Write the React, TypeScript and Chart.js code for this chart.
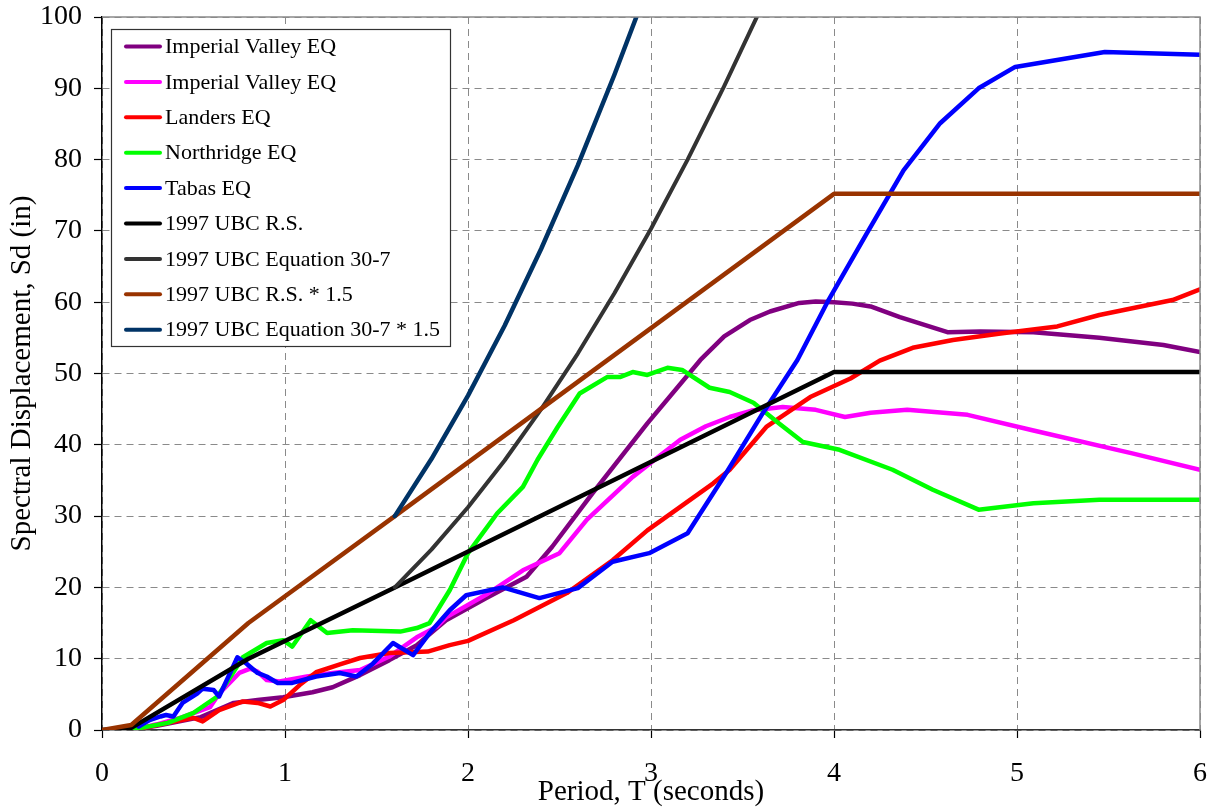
import React, { useEffect, useRef } from "react";
import { Chart, registerables } from "chart.js";

Chart.register(...registerables);

// ---------- data ----------
const seriesLabels = [
  "Imperial Valley EQ",
  "Imperial Valley EQ",
  "Landers EQ",
  "Northridge EQ",
  "Tabas EQ",
  "1997 UBC R.S.",
  "1997 UBC Equation 30-7",
  "1997 UBC R.S. * 1.5",
  "1997 UBC Equation 30-7 * 1.5",
];

const seriesColors = [
  "#800080",
  "#FF00FF",
  "#FF0000",
  "#00FF00",
  "#0000FF",
  "#000000",
  "#333333",
  "#993300",
  "#003366",
];

const imperial1T = [0.15, 0.3, 0.54, 0.72, 0.85, 0.99, 1.15, 1.26, 1.41, 1.57, 1.72, 1.88, 2.1, 2.32, 2.46, 2.68, 2.98, 3.27, 3.4, 3.54, 3.65, 3.81, 3.9, 4.0, 4.1, 4.2, 4.36, 4.62, 4.8, 5.09, 5.45, 5.8, 6.0];
const imperial1Sd = [0, 0.6, 1.8, 3.8, 4.2, 4.6, 5.3, 6.0, 7.7, 9.8, 11.9, 15.4, 18.5, 21.5, 25.7, 33.2, 43, 51.9, 55.2, 57.5, 58.7, 59.9, 60.1, 60, 59.8, 59.4, 57.9, 55.8, 55.9, 55.8, 55, 54, 53];

const imperial2T = [0.17, 0.3, 0.44, 0.59, 0.64, 0.75, 0.81, 0.85, 0.9, 0.97, 1.12, 1.26, 1.41, 1.57, 1.72, 1.83, 1.88, 2.1, 2.3, 2.5, 2.65, 2.9, 3.16, 3.3, 3.43, 3.55, 3.72, 3.9, 4.06, 4.2, 4.4, 4.73, 5.09, 5.63, 6.0];
const imperial2Sd = [0, 0.8, 1.8, 3.2, 5.1, 8, 8.6, 8.2, 7, 6.8, 7.5, 8, 8.4, 10.3, 13, 14.5, 15.8, 19, 22.4, 24.8, 29.5, 35.5, 40.7, 42.6, 43.9, 44.8, 45.3, 44.9, 43.9, 44.5, 44.9, 44.2, 42, 38.8, 36.5];

const landersT = [0.17, 0.36, 0.5, 0.55, 0.64, 0.77, 0.85, 0.92, 0.99, 1.08, 1.17, 1.3, 1.41, 1.57, 1.78, 1.9, 2.0, 2.25, 2.54, 2.79, 2.98, 3.16, 3.34, 3.43, 3.63, 3.87, 4.09, 4.25, 4.43, 4.65, 4.91, 5.22, 5.45, 5.85, 6.0];
const landersSd = [0, 1, 1.7, 1.2, 2.8, 4, 3.8, 3.3, 4.2, 6.3, 8.1, 9.2, 10.1, 10.8, 11, 11.9, 12.5, 15.4, 19.2, 23.8, 28, 31.3, 34.6, 36.5, 42.5, 46.7, 49.3, 51.8, 53.6, 54.7, 55.6, 56.6, 58.2, 60.3, 61.8];

const northridgeT = [0.15, 0.36, 0.5, 0.63, 0.68, 0.77, 0.9, 0.99, 1.04, 1.14, 1.23, 1.37, 1.63, 1.72, 1.79, 1.9, 2.0, 2.16, 2.3, 2.38, 2.49, 2.61, 2.76, 2.83, 2.9, 2.98, 3.09, 3.17, 3.32, 3.43, 3.56, 3.7, 3.83, 4.03, 4.32, 4.54, 4.79, 5.09, 5.45, 6.0];
const northridgeSd = [0, 1, 2.4, 4.7, 6.6, 10.2, 12.2, 12.6, 11.7, 15.4, 13.6, 14, 13.8, 14.3, 15, 19.6, 24.8, 30.4, 34.1, 37.9, 42.5, 47.2, 49.5, 49.5, 50.2, 49.8, 50.8, 50.5, 48, 47.4, 45.9, 43, 40.4, 39.3, 36.5, 33.7, 30.9, 31.8, 32.3, 32.3];

const tabasT = [0.2, 0.26, 0.32, 0.35, 0.39, 0.44, 0.52, 0.55, 0.61, 0.64, 0.7, 0.74, 0.79, 0.85, 0.9, 0.96, 1.04, 1.17, 1.3, 1.39, 1.48, 1.59, 1.7, 1.79, 1.9, 1.99, 2.19, 2.39, 2.6, 2.79, 2.99, 3.2, 3.41, 3.61, 3.8, 3.97, 4.18, 4.38, 4.58, 4.79, 4.99, 5.48, 6.0];
const tabasSd = [0.5, 1.4, 1.9, 2.1, 1.9, 3.8, 5.1, 5.8, 5.6, 4.7, 8, 10.2, 9.3, 8, 7.5, 6.6, 6.6, 7.5, 8, 7.5, 9.3, 12.2, 10.5, 13.6, 16.8, 18.9, 20, 18.5, 19.9, 23.6, 24.8, 27.6, 36, 44.4, 51.9, 60.3, 69.7, 78.5, 85.1, 90, 93, 95.1, 94.7];

const ubcRsT = [0, 0.16, 0.8, 1.6, 4.0, 6.0];
const ubcRsSd = [0, 0.3, 10, 20, 50.2, 50.2];

const ubcEqT = [1.6, 1.8, 2.0, 2.2, 2.4, 2.6, 2.8, 3.0, 3.2, 3.4, 3.58];
const ubcEqSd = [20, 25.3, 31.25, 37.8, 45, 52.8, 61.25, 70.3, 80, 90.3, 100.1];

const ubcRs15T = [0, 0.16, 0.8, 1.6, 4.0, 6.0];
const ubcRs15Sd = [0, 0.7, 15, 30, 75.2, 75.2];

const ubcEq15T = [1.6, 1.8, 2.0, 2.2, 2.4, 2.6, 2.8, 2.92];
const ubcEq15Sd = [30, 38, 46.9, 56.7, 67.5, 79.2, 91.9, 100];

const xTicks = [0, 1, 2, 3, 4, 5, 6];
const yTicks = [0, 10, 20, 30, 40, 50, 60, 70, 80, 90, 100];

const seriesT = [imperial1T, imperial2T, landersT, northridgeT, tabasT, ubcRsT, ubcEqT, ubcRs15T, ubcEq15T];
const seriesSd = [imperial1Sd, imperial2Sd, landersSd, northridgeSd, tabasSd, ubcRsSd, ubcEqSd, ubcRs15Sd, ubcEq15Sd];
const seriesWidths = [4.5, 4.5, 4.5, 4.5, 4.5, 4.5, 4, 4.5, 4.5];

const FONT = "'Liberation Serif', 'Times New Roman', serif";

const framePlugin = {
  id: "frameAndLegend",
  afterDatasetsDraw(chart: any) {
    const { ctx, chartArea } = chart;
    ctx.save();
    // top & right frame
    ctx.strokeStyle = "#8a8a8a";
    ctx.lineWidth = 1.5;
    ctx.beginPath();
    ctx.moveTo(chartArea.left, chartArea.top);
    ctx.lineTo(chartArea.right, chartArea.top);
    ctx.lineTo(chartArea.right, chartArea.bottom);
    ctx.stroke();

    // legend box
    const bx = 111, by = 29, bw = 339, bh = 317;
    ctx.fillStyle = "#ffffff";
    ctx.fillRect(bx, by, bw, bh);
    ctx.strokeStyle = "#333333";
    ctx.lineWidth = 1.2;
    ctx.strokeRect(bx + 0.5, by + 0.5, bw, bh);

    const ds = chart.data.datasets;
    ctx.font = `22px ${FONT}`;
    ctx.textBaseline = "middle";
    ctx.textAlign = "left";
    ctx.lineCap = "round";
    for (let i = 0; i < ds.length; i++) {
      const y = 46.5 + i * 35.4;
      ctx.strokeStyle = ds[i].borderColor;
      ctx.lineWidth = 4;
      ctx.beginPath();
      ctx.moveTo(126, y);
      ctx.lineTo(160, y);
      ctx.stroke();
      ctx.fillStyle = "#000";
      ctx.fillText(ds[i].label, 165, y + 1);
    }
    ctx.restore();
  },
};

export default function App() {
  const ref = useRef<HTMLCanvasElement | null>(null);

  useEffect(() => {
    document.body.style.margin = "0";
    if (!ref.current) return;
    const datasets = seriesLabels.map((label, i) => ({
      label,
      data: seriesT[i].map((t, j) => ({ x: t, y: seriesSd[i][j] })),
      borderColor: seriesColors[i],
      backgroundColor: seriesColors[i],
      borderWidth: seriesWidths[i],
      pointRadius: 0,
      tension: 0,
      fill: false,
      borderJoinStyle: "round" as const,
      borderCapStyle: "round" as const,
      order: -i,
    }));

    const chart = new Chart(ref.current, {
      type: "line",
      data: { datasets },
      plugins: [framePlugin],
      options: {
        animation: false,
        responsive: true,
        maintainAspectRatio: false,
        layout: { padding: { top: 17, right: 14, left: 0, bottom: 0 } },
        plugins: { legend: { display: false }, tooltip: { enabled: false } },
        scales: {
          x: {
            type: "linear",
            min: 0,
            max: 6,
            afterBuildTicks: (s: any) => {
              s.ticks = xTicks.map((v) => ({ value: v }));
            },
            afterFit: (s: any) => {
              s.height = 79;
              s.paddingLeft = 0;
              s.paddingRight = 0;
            },
            ticks: {
              font: { family: FONT, size: 28 },
              color: "#000",
              padding: 19,
              maxRotation: 0,
            },
            grid: {
              color: "#8a8a8a",
              lineWidth: 1,
              tickColor: "#000",
              tickLength: 8,
              tickWidth: 1.2,
            },
            border: { display: true, color: "#333", width: 1.5, dash: [7, 5] },
            title: {
              display: true,
              text: "Period, T (seconds)",
              font: { family: FONT, size: 29 },
              color: "#000",
              padding: { top: 0, bottom: -1 },
            },
          },
          y: {
            type: "linear",
            min: 0,
            max: 100,
            afterBuildTicks: (s: any) => {
              s.ticks = yTicks.map((v) => ({ value: v }));
            },
            afterFit: (s: any) => {
              s.width = 102;
              s.paddingTop = 0;
              s.paddingBottom = 0;
            },
            ticks: {
              font: { family: FONT, size: 28 },
              color: "#000",
              padding: 12,
            },
            grid: {
              color: "#8a8a8a",
              lineWidth: 1,
              tickColor: "#000",
              tickLength: 8,
              tickWidth: 1.2,
            },
            border: { display: true, color: "#000", width: 1.5, dash: [7, 5] },
            title: {
              display: true,
              text: "Spectral Displacement, Sd (in)",
              font: { family: FONT, size: 29 },
              color: "#000",
              padding: { top: 5, bottom: 0 },
            },
          },
        },
      },
    });
    return () => chart.destroy();
  }, []);

  return (
    <div style={{ position: "absolute", left: 0, top: 0, width: 1214, height: 809, background: "#fff" }}>
      <canvas ref={ref} />
    </div>
  );
}
